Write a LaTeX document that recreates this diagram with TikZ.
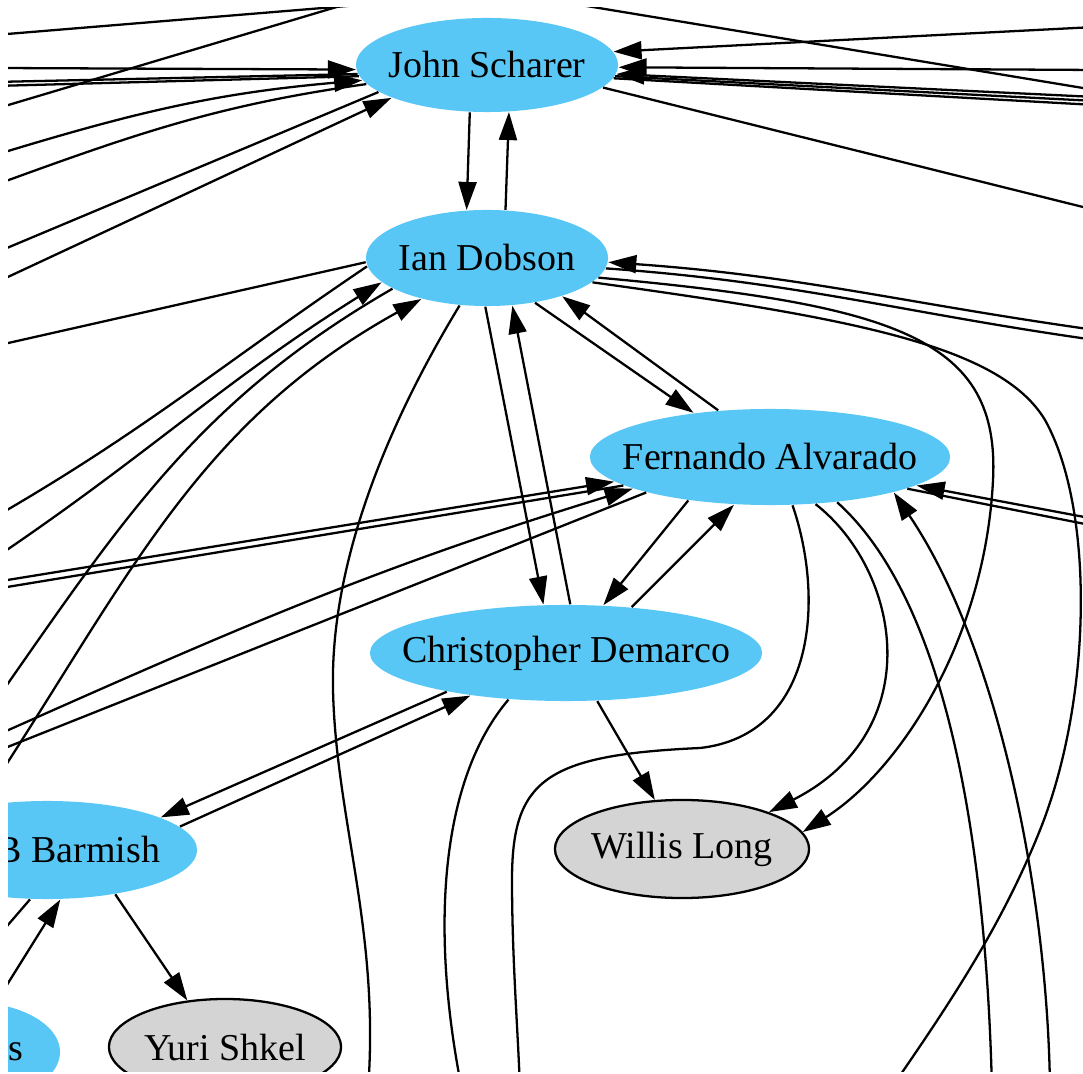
\documentclass[tikz,border=0pt]{standalone}
\usepackage{fontspec}
\setmainfont{Liberation Serif}
\usetikzlibrary{shapes.geometric,arrows.meta}
\definecolor{personblue}{RGB}{88,199,245}
\definecolor{outgray}{RGB}{212,212,212}

\begin{document}
\begin{tikzpicture}[x=0.01cm, y=-0.01cm,
    person/.style={ellipse, fill=personblue, inner xsep=-0.4cm, inner ysep=0pt,
                   font=\fontsize{10.8}{13}\selectfont},
    outsider/.style={person, fill=outgray, draw=black, line width=0.65pt},
    link/.style={line width=0.65pt},
    tip/.style={-{Triangle[length=2.8mm, width=1.8mm]}}]
    \fill[white] (0,0) rectangle (1083,1074);
    \useasboundingbox (0,0) rectangle (1083,1074);
    \clip (8,8) rectangle (1083,1071);

    % Les personnes
    \node[person, minimum width=2.62cm, minimum height=0.94cm] (scharer) at (487,65) {John Scharer};
    \node[person, minimum width=2.42cm, minimum height=0.96cm] (dobson) at (487,258) {Ian Dobson};
    \node[person, minimum width=3.60cm, minimum height=0.96cm] (alvarado) at (770,457) {Fernando Alvarado};
    \node[person, minimum width=3.92cm, minimum height=0.96cm] (demarco) at (566,653) {Christopher Demarco};
    \node[outsider, minimum width=2.54cm, minimum height=0.98cm] (long) at (682,849) {Willis Long};
    \node[person, minimum width=3.00cm, minimum height=0.98cm] (barmish) at (47,850) {\makebox[2.26cm][r]{B Barmish}};
    \node[outsider, minimum width=2.32cm, minimum height=0.96cm] (shkel) at (225,1047) {Yuri Shkel};
    \node[person, minimum width=1.80cm, minimum height=1.00cm] (lowleft) at (-30,1052) {\makebox[1.06cm][r]{s}};

    % Bouts libres hors du cadre
    \coordinate (lw1) at (-5,35);    \coordinate (top1) at (420,0);
    \coordinate (lw2) at (-5,109);   \coordinate (top2) at (350,3);
    \coordinate (lw3) at (-5,68);    \coordinate (lw4) at (-5,82);
    \coordinate (lw5) at (-5,86);    \coordinate (lw6) at (-5,155);
    \coordinate (lw7) at (-5,185);   \coordinate (lw8) at (-5,253);
    \coordinate (lw9) at (-5,283);   \coordinate (lw10) at (-5,346);
    \coordinate (lw11) at (-5,517);  \coordinate (lw12) at (-5,558);
    \coordinate (lw13) at (-5,702);  \coordinate (lw14) at (-5,782);
    \coordinate (lw15) at (-5,582);  \coordinate (lw16) at (-5,589);
    \coordinate (lw17) at (-5,736);  \coordinate (lw18) at (-5,752);
    \coordinate (lw19) at (-5,1004); \coordinate (lw20) at (-5,940);
    \coordinate (re1) at (1095,27);  \coordinate (re2) at (1095,70);
    \coordinate (re3) at (1095,97);  \coordinate (re4) at (1095,101);
    \coordinate (re5) at (1095,105); \coordinate (top3) at (520,-5);
    \coordinate (re6) at (1095,90);  \coordinate (re7) at (1095,210);
    \coordinate (re8) at (1095,330); \coordinate (re9) at (1095,340);
    \coordinate (re10) at (1095,519); \coordinate (re11) at (1095,526);
    \coordinate (bot1) at (890,1090); \coordinate (bot2) at (368,1090);
    \coordinate (bot3) at (520,1090); \coordinate (bot4) at (992,1090);
    \coordinate (bot5) at (1050,1090); \coordinate (bot6) at (462,1090);

    % Vers John Scharer, depuis la gauche
    \draw[link] (lw1) -- (top1);
    \draw[link] (lw2) -- (top2);
    \draw[link, tip] (lw3) -- (scharer.182);
    \draw[link] (lw4) -- (scharer.184);
    \draw[link] (lw5) -- (scharer.185);
    \draw[link, tip] (lw6) to[out=17, in=185] (scharer.187);
    \draw[link] (lw7) to[out=20, in=188] (scharer.189);
    \draw[link] (lw8) -- (scharer.194);
    \draw[link, tip] (lw9) -- (scharer.199);

    % Vers John Scharer, depuis la droite
    \draw[link, tip] (re1) -- (scharer.6);
    \draw[link, tip] (re2) -- (scharer.-1);
    \draw[link, tip] (re3) -- (scharer.-4);
    \draw[link] (re4) -- (scharer.-5);
    \draw[link] (re5) -- (scharer.-6);
    \draw[link] (top3) -- (re6);
    \draw[link] (scharer.-11) -- (re7);

    % John Scharer <-> Ian Dobson
    \draw[link, tip] (scharer.250) -- (dobson.113);
    \draw[link, tip] (dobson.69) -- (scharer.-65);

    % Ian Dobson, depuis la gauche
    \draw[link] (lw10) -- (dobson.182);
    \draw[link] (lw11) to[out=30, in=214] (dobson.184);
    \draw[link, tip] (lw12) to[out=34, in=212] (dobson.193);
    \draw[link] (lw13) to[out=55, in=210] (dobson.198);
    \draw[link, tip] (lw14) to[out=57, in=209] (dobson.212);

    % Ian Dobson, vers la droite
    \draw[link, tip] (re8) to[out=172, in=-4] (dobson.-2);
    \draw[link] (dobson.-5) to[out=-4, in=172] (re9);
    \draw[link, tip] (dobson.-10) .. controls (900,305) and (1000,340) .. (993,480)
        .. controls (985,640) and (900,770) .. (long.8);
    \draw[link] (dobson.-13) .. controls (850,318) and (1000,345) .. (1045,420)
        .. controls (1095,510) and (1092,700) .. (1040,830)
        .. controls (1000,930) and (945,1010) .. (bot1);
    \draw[link] (dobson.240) .. controls (390,420) and (330,560) .. (333,690)
        .. controls (336,820) and (380,930) .. (bot2);

    % Ian Dobson <-> Fernando Alvarado, Christopher Demarco
    \draw[link, tip] (dobson.-43) -- (alvarado.150);
    \draw[link, tip] (alvarado.138) -- (dobson.-27);
    \draw[link, tip] (dobson.-92) -- (demarco.115);
    \draw[link, tip] (demarco.85) -- (dobson.-62);

    % Fernando Alvarado, gauche et droite
    \draw[link, tip] (lw15) -- (alvarado.189);
    \draw[link] (lw16) -- (alvarado.191);
    \draw[link, tip] (lw17) to[out=24, in=197] (alvarado.193);
    \draw[link] (lw18) -- (alvarado.196);
    \draw[link, tip] (re10) -- (alvarado.-11);
    \draw[link] (alvarado.-13) -- (re11);

    % Fernando Alvarado <-> Christopher Demarco
    \draw[link, tip] (alvarado.208) -- (demarco.52);
    \draw[link, tip] (demarco.35) -- (alvarado.233);

    % Fernando Alvarado vers le bas
    \draw[link, tip] (alvarado.-46) .. controls (900,570) and (930,730) .. (long.23);
    \draw[link] (alvarado.-65) .. controls (825,600) and (815,735) .. (700,748)
        .. controls (545,755) and (512,780) .. (512,880)
        .. controls (512,960) and (518,1030) .. (bot3);
    \draw[link] (alvarado.-34) .. controls (935,590) and (985,800) .. (bot4);
    \draw[link, tip] (bot5) .. controls (1048,900) and (1000,650) .. (alvarado.-16);

    % Christopher Demarco et le bas
    \draw[link, tip] (demarco.-57) -- (long.119);
    \draw[link] (demarco.219) .. controls (440,780) and (430,930) .. (bot6);
    \draw[link, tip] (demarco.198) -- (barmish.16);
    \draw[link, tip] (barmish.10) -- (demarco.204);
    \draw[link, tip] (barmish.-33) -- (shkel.129);
    \draw[link, tip] (lw19) -- (barmish.-75);
    \draw[link] (barmish.251) -- (lw20);

\end{tikzpicture}
\end{document}
